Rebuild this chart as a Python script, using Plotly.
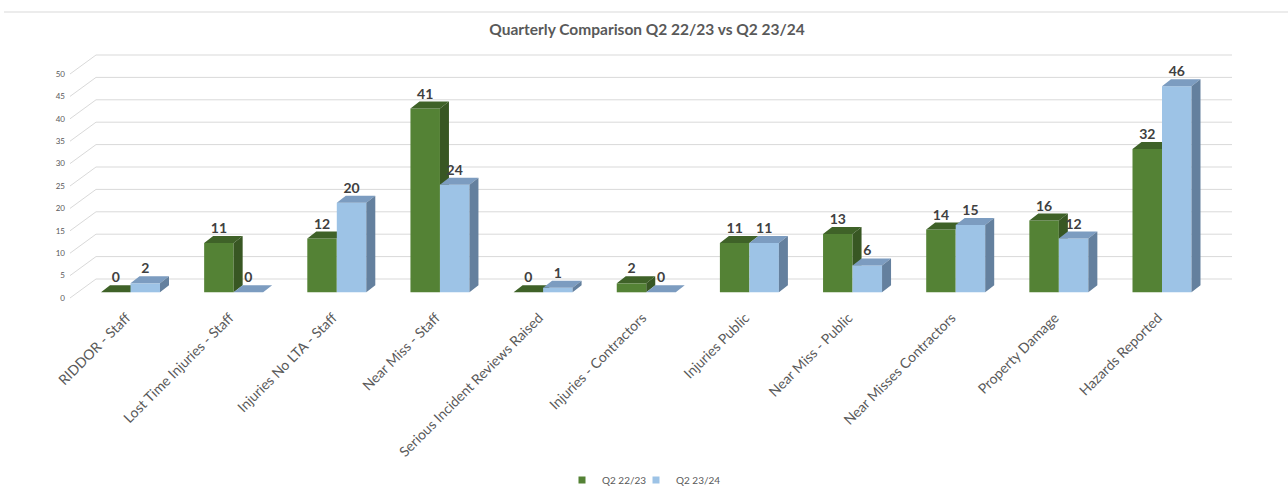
import plotly.graph_objects as go

# ---- data -------------------------------------------------------------
categories = [
    "RIDDOR - Staff",
    "Lost Time Injuries - Staff",
    "Injuries No LTA - Staff",
    "Near Miss - Staff",
    "Serious Incident Reviews Raised",
    "Injuries - Contractors",
    "Injuries Public",
    "Near Miss - Public",
    "Near Misses Contractors",
    "Property Damage",
    "Hazards Reported",
]
q2_2223 = [0, 11, 12, 41, 0, 2, 11, 13, 14, 16, 32]
q2_2324 = [2, 0, 20, 24, 1, 0, 11, 6, 15, 12, 46]
series_names = ["Q2 22/23", "Q2 23/24"]
y_ticks = [0, 5, 10, 15, 20, 25, 30, 35, 40, 45, 50]

# ---- layout geometry (pixels) ----------------------------------------
W, H = 1288, 492
L, R, T, B = 70, 1240, 40, 300          # plot area
x_first = 130.5                          # first category centre
cat_px = 103.15                          # pixels per category
y_zero = 292.3                           # pixel row of count 0 on bar fronts
unit_px = 4.48                           # pixels per count

x_range = [(L - x_first) / cat_px, (R - x_first) / cat_px]
y_range = [(y_zero - B) / unit_px, (y_zero - T) / unit_px]

bar_w = 29.5 / cat_px                    # width of one bar front
depth_x = 9 / cat_px                     # oblique depth of a bar
depth_y = 7 / unit_px
wall_dx_start = x_range[0]               # side-wall gridline start
wall_x0 = (96 - x_first) / cat_px        # back wall left edge
wall_x1 = (1232 - x_first) / cat_px      # back wall right edge
wall_shift = 13.3 / unit_px              # back wall sits above bar fronts
front_shift = -5.7 / unit_px             # axis labels sit below bar fronts

FONT = "Lato"
GRID = "#d9d9d9"
TXT = "#595959"

colors = {
    "Q2 22/23": dict(front="#548235", top="#3f6228", side="#385723"),
    "Q2 23/24": dict(front="#9dc3e6", top="#7c9cc0", side="#64809e"),
}

fig = go.Figure()

# ---- back wall and side wall gridlines (base subplot) -----------------
gx, gy = [], []
for v in y_ticks:
    gx += [wall_dx_start, wall_x0, wall_x1, None]
    gy += [v + front_shift, v + wall_shift, v + wall_shift, None]
fig.add_trace(go.Scatter(
    x=gx, y=gy, mode="lines", line=dict(color=GRID, width=1),
    hoverinfo="skip", showlegend=False, xaxis="x", yaxis="y",
))


def faces(values, offset, next_values=None):
    """Top and side polygons of the oblique 3D bars."""
    tx, ty, sx, sy = [], [], [], []
    for i, v in enumerate(values):
        x0 = i + offset
        x1 = x0 + bar_w
        tx += [x0, x1, x1 + depth_x, x0 + depth_x, x0, None]
        ty += [v, v, v + depth_y, v + depth_y, v, None]
        if v <= 0:
            continue
        # part of the side face left uncovered by the neighbouring bar
        vb = 0 if next_values is None else next_values[i]
        if vb >= v:
            continue
        if vb >= depth_y:
            sx += [x1, x1, x1 + depth_x, x1 + depth_x, x1, None]
            sy += [vb, v, v + depth_y, vb, vb, None]
        else:
            sx += [x1 + depth_x * vb / depth_y, x1, x1, x1 + depth_x,
                   x1 + depth_x, x1 + depth_x * vb / depth_y, None]
            sy += [vb, vb, v, v + depth_y, depth_y, vb, None]
    return tx, ty, sx, sy


series = [
    (series_names[0], q2_2223, -bar_w, q2_2324, "2"),
    (series_names[1], q2_2324, 0.0, None, "3"),
]

for name, vals, off, nxt, ax in series:
    c = colors[name]
    xa, ya = "x" + ax, "y" + ax
    fig.add_trace(go.Bar(
        x=[i + off + bar_w / 2 for i in range(len(categories))],
        y=vals, width=bar_w, name=name, showlegend=False,
        marker=dict(color=c["front"], line=dict(width=0)),
        xaxis=xa, yaxis=ya, hoverinfo="x+y",
    ))
    tx, ty, sx, sy = faces(vals, off, nxt)
    fig.add_trace(go.Scatter(
        x=tx, y=ty, mode="lines", fill="toself", fillcolor=c["top"],
        line=dict(width=0, color=c["top"]), showlegend=False,
        hoverinfo="skip", xaxis=xa, yaxis=ya,
    ))
    fig.add_trace(go.Scatter(
        x=sx, y=sy, mode="lines", fill="toself", fillcolor=c["side"],
        line=dict(width=0, color=c["side"]), showlegend=False,
        hoverinfo="skip", xaxis=xa, yaxis=ya,
    ))

# small square legend keys, one legend box per series
for name, leg in zip(series_names, ["legend", "legend2"]):
    fig.add_trace(go.Scatter(
        x=[None], y=[None], mode="markers", name=name, legend=leg,
        marker=dict(symbol="square", size=7, color=colors[name]["front"]),
        xaxis="x", yaxis="y", hoverinfo="skip",
    ))

# ---- data labels ------------------------------------------------------
lx, ly, lt = [], [], []
for name, vals, off, _, _ in series:
    for i, v in enumerate(vals):
        lx.append(i + off + bar_w / 2)
        ly.append(v + depth_y + 6.5 / unit_px)
        lt.append(str(v))
fig.add_trace(go.Scatter(
    x=lx, y=ly, text=lt, mode="text", textposition="middle center",
    textfont=dict(family=FONT, size=14, color="#404040", weight="bold"),
    showlegend=False, hoverinfo="skip", xaxis="x3", yaxis="y3",
    cliponaxis=False,
))

hidden = dict(range=x_range, visible=False, fixedrange=True, automargin=False)
hidden_y = dict(range=y_range, visible=False, fixedrange=True, automargin=False)

legend_style = dict(
    orientation="h", xanchor="center", yanchor="middle",
    y=(B - 480) / (B - T),
    font=dict(family=FONT, size=10, color=TXT),
    bgcolor="rgba(0,0,0,0)",
)

fig.update_layout(
    width=W, height=H,
    margin=dict(l=L, r=W - R, t=T, b=H - B, pad=0, autoexpand=False),
    paper_bgcolor="white", plot_bgcolor="rgba(0,0,0,0)",
    font=dict(family=FONT, color=TXT),
    title=dict(
        text="<b>Quarterly Comparison Q2 22/23 vs Q2 23/24</b>",
        x=647 / W, xref="container", xanchor="center",
        y=1 - 30 / H, yref="container", yanchor="middle",
        font=dict(family=FONT, size=15.5, color=TXT),
    ),
    xaxis=dict(
        range=x_range, tickmode="array",
        tickvals=[i - 4 / cat_px for i in range(len(categories))],
        ticktext=categories, tickangle=-45,
        tickfont=dict(family=FONT, size=14, color=TXT),
        showgrid=False, zeroline=False, showline=False, ticks="",
        ticklabelstandoff=6, fixedrange=True, automargin=False,
    ),
    yaxis=dict(
        range=y_range, tickmode="array",
        tickvals=[v + front_shift for v in y_ticks],
        ticktext=[str(v) for v in y_ticks],
        tickfont=dict(family=FONT, size=8, color=TXT),
        showgrid=False, zeroline=False, showline=False, ticks="",
        ticklabelstandoff=4, fixedrange=True, automargin=False,
    ),
    xaxis2=dict(hidden, overlaying="x", anchor="y2"),
    yaxis2=dict(hidden_y, overlaying="y", anchor="x2"),
    xaxis3=dict(hidden, overlaying="x", anchor="y3"),
    yaxis3=dict(hidden_y, overlaying="y", anchor="x3"),
    barmode="overlay",
    showlegend=True,
    legend=dict(legend_style, x=(607 - L) / (R - L)),
    legend2=dict(legend_style, x=(681 - L) / (R - L)),
    shapes=[dict(
        type="line", xref="paper", yref="paper",
        x0=(4 - L) / (R - L), x1=(W - L) / (R - L),
        y0=(B - 12) / (B - T), y1=(B - 12) / (B - T),
        line=dict(color=GRID, width=1),
    )],
)

fig.write_html("out.html")
